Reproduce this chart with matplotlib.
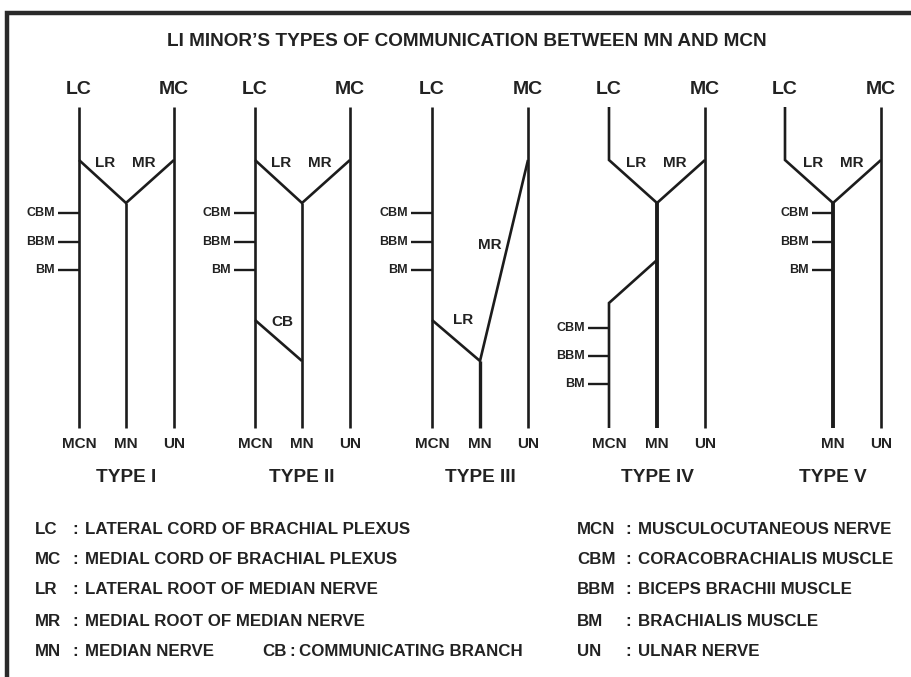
import matplotlib
matplotlib.use("Agg")
import matplotlib.pyplot as plt

plt.rcParams['font.family'] = ['Liberation Sans', 'DejaVu Sans']

# ---------------- data ----------------
title = "LI MINOR\u2019S TYPES OF COMMUNICATION BETWEEN MN AND MCN"
type_names = ["TYPE I", "TYPE II", "TYPE III", "TYPE IV", "TYPE V"]
lc_x = [79, 255, 432, 609, 785]     # lateral cord / MCN column
mn_x = [126, 302, 480, 657, 833]    # median nerve column
mc_x = [174, 350, 528, 705, 881]    # medial cord / ulnar column
y_top, y_bot = 107, 428
y_root = 160        # where roots leave cords
y_join = 203        # where roots join into MN
muscles = ["CBM", "BBM", "BM"]
muscle_y_upper = [213, 242, 270]
muscle_y_lower = [328, 356, 384]
# type II communicating branch (LC level, MN level)
cb_levels = (320, 361)
# type III: LR leaves LC low, joins MN low
t3_lr_level, t3_join = 320, 361
# type IV: MCN arises from MN
t4_branch = (260, 303)

legend_left = [("LC", "LATERAL CORD OF BRACHIAL PLEXUS"),
               ("MC", "MEDIAL CORD OF BRACHIAL PLEXUS"),
               ("LR", "LATERAL ROOT OF MEDIAN NERVE"),
               ("MR", "MEDIAL ROOT OF MEDIAN NERVE"),
               ("MN", "MEDIAN NERVE")]
legend_extra = ("CB", "COMMUNICATING BRANCH")
legend_right = [("MCN", "MUSCULOCUTANEOUS NERVE"),
                ("CBM", "CORACOBRACHIALIS MUSCLE"),
                ("BBM", "BICEPS BRACHII MUSCLE"),
                ("BM", "BRACHIALIS MUSCLE"),
                ("UN", "ULNAR NERVE")]
legend_rows_y = [529, 560, 590, 621, 652]

# ---------------- drawing ----------------
W, H = 912, 677
fig = plt.figure(figsize=(W / 100, H / 100), dpi=100)
ax = fig.add_axes([0, 0, 1, 1])
ax.set_xlim(0, W)
ax.set_ylim(H, 0)
ax.axis('off')

LC_COL = '#1c1c1c'
TXT = '#222222'
LW = 1.9
LW_THICK = 2.8

def seg(x0, y0, x1, y1, lw=LW):
    ax.plot([x0, x1], [y0, y1], color=LC_COL, lw=lw, solid_capstyle='butt',
            solid_joinstyle='miter')

def poly(xs, ys, lw=LW):
    ax.plot(xs, ys, color=LC_COL, lw=lw, solid_capstyle='butt',
            solid_joinstyle='miter')

def txt(x, y, s, size, ha='center', weight='bold', color=TXT):
    ax.text(x, y, s, fontsize=size, ha=ha, va='center', weight=weight, color=color)

def muscle_ticks(x, ys):
    for name, y in zip(muscles, ys):
        seg(x - 21, y, x, y, lw=1.7)
        txt(x - 24, y, name, 9, ha='right')

# frame
ax.plot([7, 7, W], [H, 13, 13], color='#2a2a2a', lw=3.2, solid_joinstyle='miter',
        solid_capstyle='butt')

txt(467, 41, title, 13.7)

for i, name in enumerate(type_names):
    lx, mx, cx = lc_x[i], mn_x[i], mc_x[i]
    # top labels
    txt(lx, 90, "LC", 14)
    txt(cx, 90, "MC", 14)
    # ulnar / medial cord always full
    seg(cx, y_top, cx, y_bot)
    if i in (0, 1):
        seg(lx, y_top, lx, y_bot)
        poly([lx, mx, cx], [y_root, y_join, y_root])
        seg(mx, y_join, mx, y_bot)
        muscle_ticks(lx, muscle_y_upper)
        txt(lx + 26, 163, "LR", 11)
        txt(cx - 30, 163, "MR", 11)
        if i == 1:
            seg(lx, cb_levels[0], mx, cb_levels[1])
            txt(lx + 27, 322, "CB", 11)
    elif i == 2:
        seg(lx, y_top, lx, y_bot)
        poly([lx, mx, cx], [t3_lr_level, t3_join, y_root])
        seg(mx, t3_join, mx, y_bot, lw=2.4)
        muscle_ticks(lx, muscle_y_upper)
        txt(463, 320, "LR", 11)
        txt(490, 245, "MR", 11)
    elif i == 3:
        poly([lx, lx, mx, cx], [y_top, y_root, y_join, y_root])
        seg(mx, y_join, mx, y_bot, lw=LW_THICK)
        poly([mx, lx, lx], [t4_branch[0], t4_branch[1], y_bot])
        muscle_ticks(lx, muscle_y_lower)
        txt(lx + 27, 163, "LR", 11)
        txt(cx - 30, 163, "MR", 11)
    else:
        poly([lx, lx, mx, cx], [y_top, y_root, y_join, y_root])
        seg(mx, y_join, mx, y_bot, lw=LW_THICK)
        muscle_ticks(mx, muscle_y_upper)
        txt(lx + 28, 163, "LR", 11)
        txt(cx - 29, 163, "MR", 11)
    # bottom labels
    if i != 4:
        txt(lx, 444, "MCN", 11)
    txt(mx, 444, "MN", 11)
    txt(cx, 444, "UN", 11)
    txt(mx, 478, name, 13.7)

# legend
LEG = 12.2
for (ab, desc), y in zip(legend_left, legend_rows_y):
    txt(35, y, ab, LEG, ha='left')
    txt(72, y, ":", LEG, ha='left')
    txt(85, y, desc, LEG, ha='left')
y5 = legend_rows_y[-1]
txt(262, y5, legend_extra[0], LEG, ha='left')
txt(289, y5, ":", LEG, ha='left')
txt(299, y5, legend_extra[1], LEG, ha='left')
for (ab, desc), y in zip(legend_right, legend_rows_y):
    txt(577, y, ab, LEG, ha='left')
    txt(625, y, ":", LEG, ha='left')
    txt(638, y, desc, LEG, ha='left')

fig.savefig("out.png", dpi=100, facecolor='white')
